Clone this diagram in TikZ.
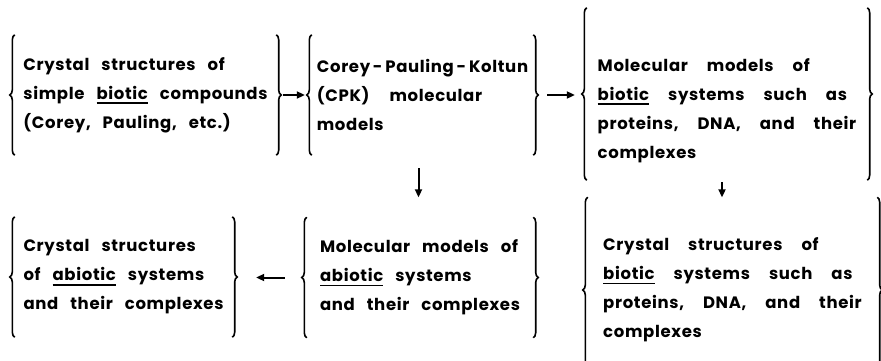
\documentclass[tikz,border=0pt]{standalone}
\usepackage{fontspec}
\setmainfont{Poppins}[LetterSpace=4]
\usetikzlibrary{arrows.meta,decorations.pathreplacing}
\newcommand{\undl}[1]{\setbox0=\hbox{#1}\rlap{\vrule height -3pt depth 4.6pt width \wd0}\box0\relax}
\newcommand{\boxfont}{\bfseries\fontsize{16.5}{29}\selectfont\spaceskip=12pt plus 2pt\relax}
\newcommand{\widefont}{\boxfont\spaceskip=19pt plus 2pt\relax}
\tikzset{
	box/.style={align=left, inner sep=0pt, font=\boxfont},
	widebox/.style={box, font=\widefont},
	lbrace/.style={decorate, decoration={brace, amplitude=5pt}, line width=1.6pt},
	link/.style={line width=2pt, -{Triangle[length=8pt,width=7pt]}}
}
\begin{document}
\begin{tikzpicture}[x=1pt, y=-1pt]
	\useasboundingbox (0,0) rectangle (881,361);
	\clip (0,0) rectangle (881,361);
	%boxes
	\node[box, minimum width=261pt, minimum height=120pt] (cryst) at (145.5,95)
	{Crystal structures of\\simple \undl{biotic} compounds\\(Corey, Pauling, etc.)};
	\node[box, minimum width=221pt, minimum height=120pt] (cpk) at (422.5,95)
	{Corey\,-\,Pauling\,-\,Koltun\\(CPK)\hspace{8pt} molecular\\models};
	\node[widebox, minimum width=280pt, minimum height=172pt] (molbio) at (727,94)
	{\rule{0pt}{46pt}Molecular models of\\\undl{biotic} systems such as\\proteins, DNA, and their\\complexes};
	\node[box, minimum width=217pt, minimum height=120pt] (cryabio) at (123.5,277)
	{Crystal structures\\of \undl{abiotic} systems\\and their complexes};
	\node[box, minimum width=226pt, minimum height=120pt] (molabio) at (420,277.5)
	{Molecular models of\\\undl{abiotic} systems\\and their complexes};
	\node[widebox, minimum width=289pt, minimum height=185pt] (crybio) at (732.5,290)
	{Crystal structures of\\\undl{biotic} systems such as\\proteins, DNA, and their\\complexes};
	%braces
	\foreach \b in {cryst,cpk,molbio,cryabio,molabio,crybio} {
		\draw[lbrace] (\b.south west) -- (\b.north west);
		\draw[lbrace] (\b.north east) -- (\b.south east);
	}
	%arrows
	\draw[link, shorten <=7pt, shorten >=7pt] (cryst.east) -- (cpk.west);
	\draw[link, shorten <=14pt, shorten >=12pt] (cpk.east) -- (molbio.west |- cpk.east);
	\draw[link, shorten <=13pt, shorten >=20pt] ([xshift=-4pt]cpk.south) -- ([xshift=-4pt]cpk.south |- molabio.north);
	\draw[link, shorten <=2pt] ([xshift=-5pt]molbio.south) -- ([xshift=-5pt]molbio.south |- crybio.north);
	\draw[link, shorten <=22pt, shorten >=24pt] (molabio.west) -- (cryabio.east |- molabio.west);
\end{tikzpicture}
\end{document}
